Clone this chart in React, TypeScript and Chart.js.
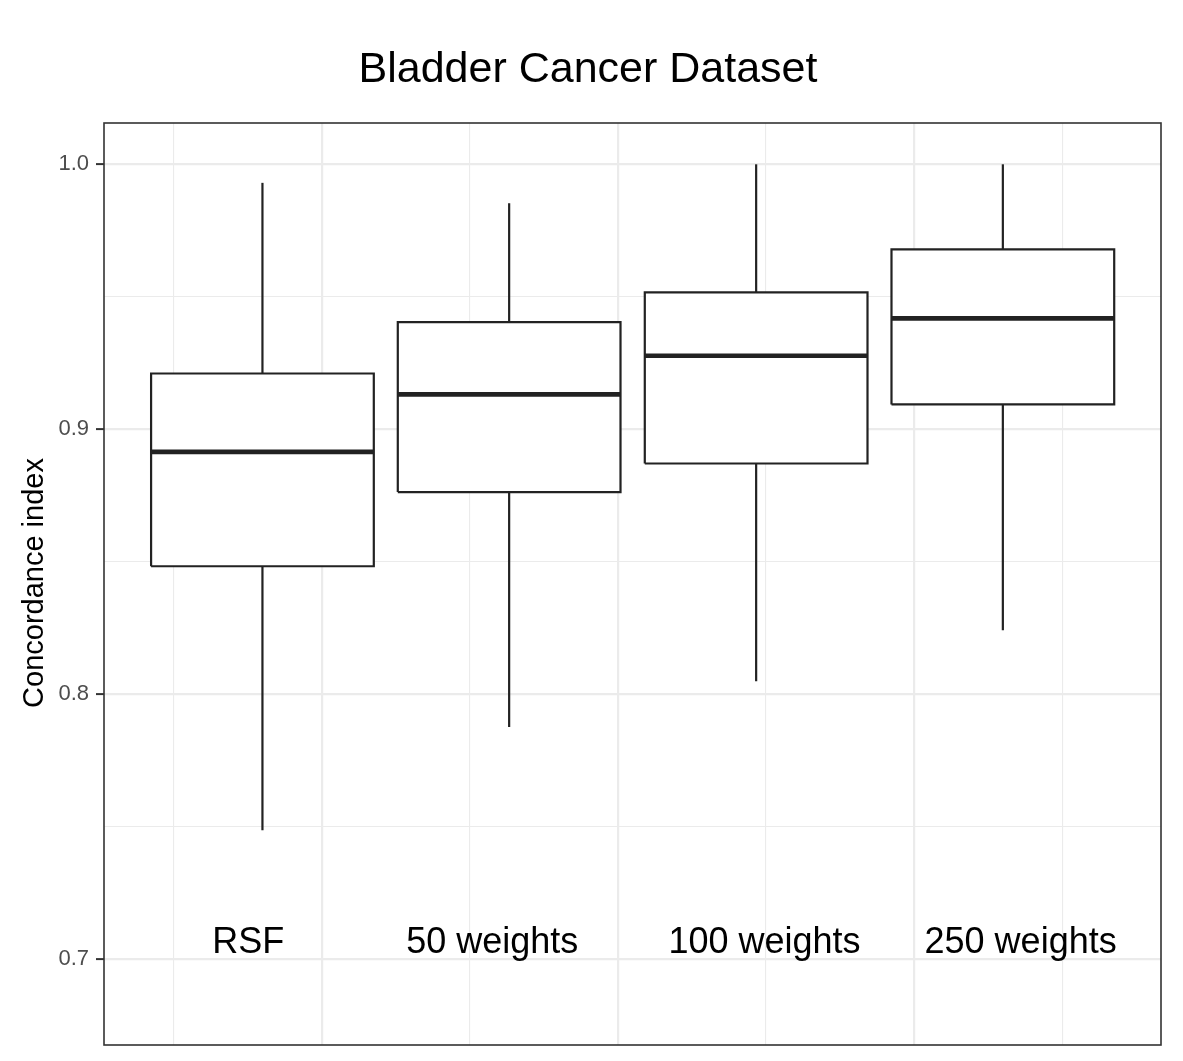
import React, { useEffect, useRef } from 'react';
import { Chart, registerables } from 'chart.js';

Chart.register(...registerables);

// ---- data ----
const categories = ['RSF', '50 weights', '100 weights', '250 weights'];
const boxX = [0.8, 1.633, 2.467, 3.3];
const whiskerLow = [0.7485, 0.7875, 0.8048, 0.824];
const q1 = [0.8482, 0.8762, 0.887, 0.9093];
const median = [0.8914, 0.9131, 0.9277, 0.9418];
const q3 = [0.921, 0.9404, 0.9516, 0.9679];
const whiskerHigh = [0.993, 0.9853, 1.0, 1.0];
const labelX = [0.752, 1.576, 2.495, 3.36];
const labelY = [0.702, 0.702, 0.702, 0.702];
const yMajorTicks = [0.7, 0.8, 0.9, 1.0];
const yTickLabels = ['0.7', '0.8', '0.9', '1.0'];
const yMinorTicks = [0.75, 0.85, 0.95];
const xMajorTicks = [1, 2, 3];
const xMinorTicks = [0.5, 1.5, 2.5, 3.5];

const TITLE = 'Bladder Cancer Dataset';
const Y_TITLE = 'Concordance index';

// ---- styling / layout ----
const FONT = '"Liberation Sans", Arial, Helvetica, sans-serif';
const Y_MIN = 0.6674;
const Y_MAX = 1.0156;
const X_MIN = 0.265;
const X_MAX = 3.834;
const BOX_HALF = 0.376;
const LINE = '#222222';
const GRID = '#EBEBEB';

const near = (arr: number[], v: number) => arr.some((t) => Math.abs(t - v) < 1e-9);

const annotatePlugin = {
  id: 'annotate',
  afterDatasetsDraw(chart: any) {
    const { ctx, chartArea, scales } = chart;
    ctx.save();
    // panel border
    ctx.strokeStyle = '#333333';
    ctx.lineWidth = 1.6;
    ctx.strokeRect(
      chartArea.left,
      chartArea.top,
      chartArea.right - chartArea.left,
      chartArea.bottom - chartArea.top
    );
    // in-panel category labels
    ctx.fillStyle = '#000000';
    ctx.font = `36px ${FONT}`;
    ctx.textAlign = 'center';
    ctx.textBaseline = 'alphabetic';
    categories.forEach((c, i) => {
      ctx.fillText(c, scales.x.getPixelForValue(labelX[i]), scales.y.getPixelForValue(labelY[i]));
    });
    // title
    ctx.font = `43px ${FONT}`;
    ctx.fillText(TITLE, 588, 82);
    // y axis title
    ctx.translate(43.3, 583);
    ctx.rotate(-Math.PI / 2);
    ctx.font = `29px ${FONT}`;
    ctx.fillText(Y_TITLE, 0, 0);
    ctx.restore();
  },
};

export default function App() {
  const ref = useRef<HTMLCanvasElement>(null);

  useEffect(() => {
    document.body.style.margin = '0';
    const canvas = ref.current;
    if (!canvas) return;

    const common = {
      showLine: true,
      pointRadius: 0,
      pointHoverRadius: 0,
      tension: 0,
      borderColor: LINE,
      fill: false,
    };
    const datasets: any[] = [];
    categories.forEach((cat, i) => {
      const c = boxX[i];
      const l = c - BOX_HALF;
      const r = c + BOX_HALF;
      datasets.push({
        ...common,
        label: `${cat} box`,
        data: [
          { x: l, y: q1[i] },
          { x: r, y: q1[i] },
          { x: r, y: q3[i] },
          { x: l, y: q3[i] },
          { x: l, y: q1[i] },
        ],
        borderWidth: 2.2,
        borderJoinStyle: 'miter',
        backgroundColor: '#ffffff',
        fill: 'shape',
        order: 2,
      });
      datasets.push({
        ...common,
        label: `${cat} upper whisker`,
        data: [
          { x: c, y: q3[i] },
          { x: c, y: whiskerHigh[i] },
        ],
        borderWidth: 2.2,
        order: 3,
      });
      datasets.push({
        ...common,
        label: `${cat} lower whisker`,
        data: [
          { x: c, y: q1[i] },
          { x: c, y: whiskerLow[i] },
        ],
        borderWidth: 2.2,
        order: 3,
      });
      datasets.push({
        ...common,
        label: `${cat} median`,
        data: [
          { x: l, y: median[i] },
          { x: r, y: median[i] },
        ],
        borderWidth: 4.6,
        borderCapStyle: 'butt',
        order: 0,
      });
    });

    const chart = new Chart(canvas, {
      type: 'scatter',
      data: { datasets },
      options: {
        animation: false,
        responsive: false,
        layout: { padding: { top: 123, bottom: 16, left: 0, right: 22 } },
        plugins: {
          legend: { display: false },
          tooltip: { enabled: false },
          title: { display: false },
        },
        events: [],
        scales: {
          x: {
            type: 'linear',
            min: X_MIN,
            max: X_MAX,
            afterFit: (s: any) => {
              s.height = 0;
              s.paddingLeft = 0;
              s.paddingRight = 0;
              s.paddingTop = 0;
              s.paddingBottom = 0;
            },
            afterBuildTicks: (s: any) => {
              s.ticks = [...xMinorTicks, ...xMajorTicks]
                .sort((a, b) => a - b)
                .map((v) => ({ value: v }));
            },
            ticks: { display: false, padding: 0 },
            grid: {
              color: GRID,
              lineWidth: (ctx: any) => (ctx.tick && near(xMajorTicks, ctx.tick.value) ? 2.2 : 1.1),
              drawTicks: false,
            },
            border: { display: false },
          },
          y: {
            type: 'linear',
            min: Y_MIN,
            max: Y_MAX,
            afterFit: (s: any) => {
              s.width = 104;
              s.paddingTop = 0;
              s.paddingBottom = 0;
              s.paddingLeft = 0;
              s.paddingRight = 0;
            },
            afterBuildTicks: (s: any) => {
              s.ticks = [...yMinorTicks, ...yMajorTicks]
                .sort((a, b) => a - b)
                .map((v) => ({ value: v }));
            },
            ticks: {
              autoSkip: false,
              padding: 7,
              color: '#4D4D4D',
              font: { family: FONT, size: 22 },
              callback: (value: any) => {
                const idx = yMajorTicks.findIndex((t) => Math.abs(t - Number(value)) < 1e-9);
                return idx >= 0 ? yTickLabels[idx] : '';
              },
            },
            grid: {
              color: GRID,
              lineWidth: (ctx: any) => (ctx.tick && near(yMajorTicks, ctx.tick.value) ? 2.2 : 1.1),
              drawTicks: true,
              tickLength: 8,
              tickWidth: 2,
              tickColor: (ctx: any) =>
                ctx.tick && near(yMajorTicks, ctx.tick.value) ? '#333333' : 'rgba(0,0,0,0)',
            },
            border: { display: false },
          },
        },
      } as any,
      plugins: [annotatePlugin],
    });

    return () => {
      chart.destroy();
    };
  }, []);

  return (
    <div style={{ position: 'absolute', left: 0, top: 0, width: 1183, height: 1061, background: '#ffffff' }}>
      <canvas ref={ref} width={1183} height={1061} style={{ display: 'block' }} />
    </div>
  );
}
